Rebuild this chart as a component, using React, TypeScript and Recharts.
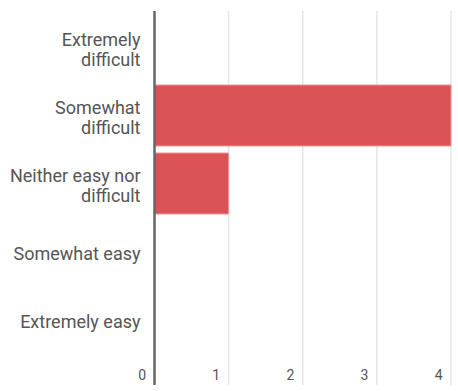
import React from 'react';
import { BarChart, Bar, XAxis, YAxis, CartesianGrid } from 'recharts';

const categories = [
  'Extremely difficult',
  'Somewhat difficult',
  'Neither easy nor difficult',
  'Somewhat easy',
  'Extremely easy',
];
const counts = [0, 4, 1, 0, 0];
const xTicks = [0, 1, 2, 3, 4];

const data = categories.map((name, i) => ({ name, count: counts[i] }));

const FONT = 'Roboto, "Noto Sans", sans-serif';

// simple word wrap, max chars per line
function wrap(label: string, max = 16): string[] {
  const lines: string[] = [];
  let cur = '';
  label.split(' ').forEach((w) => {
    const next = cur ? `${cur} ${w}` : w;
    if (next.length > max && cur) {
      lines.push(cur);
      cur = w;
    } else {
      cur = next;
    }
  });
  if (cur) lines.push(cur);
  return lines;
}

const CategoryTick = ({ x, y, payload }: any) => {
  const lines = wrap(String(payload.value));
  const start = 8 - 10 * (lines.length - 1);
  return (
    <text x={x - 6} y={y} textAnchor="end" fill="#555" fontSize={18} fontFamily={FONT}>
      {lines.map((l, i) => (
        <tspan key={i} x={x - 6} y={y + start + i * 20}>
          {l}
        </tspan>
      ))}
    </text>
  );
};

const ValueTick = ({ x, y, payload }: any) => (
  <text x={x - 8.5} y={y - 5} textAnchor="end" fill="#555" fontSize={14} fontFamily={FONT}>
    {payload.value}
  </text>
);

export default function App() {
  return (
    <div style={{ position: 'absolute', left: 0, top: 0, background: '#fff' }}>
      <BarChart
        width={458}
        height={391}
        data={data}
        layout="vertical"
        margin={{ top: 11, right: 7, left: 0, bottom: 5 }}
        barCategoryGap={3.5}
      >
        <CartesianGrid horizontal={false} stroke="#e6e6e6" strokeWidth={1.5} />
        <XAxis
          type="number"
          domain={[0, 4]}
          ticks={xTicks}
          height={1}
          axisLine={false}
          tickLine={false}
          tickSize={0}
          tickMargin={0}
          tick={<ValueTick />}
          interval={0}
        />
        <YAxis
          type="category"
          dataKey="name"
          width={154.5}
          padding={{ top: 2.5, bottom: 31.5 }}
          axisLine={{ stroke: '#666', strokeWidth: 2.5 }}
          tickLine={false}
          tick={<CategoryTick />}
          interval={0}
        />
        <Bar
          dataKey="count"
          fill="#db5357"
          stroke="#e8989a"
          strokeWidth={1}
          isAnimationActive={false}
        />
      </BarChart>
    </div>
  );
}
